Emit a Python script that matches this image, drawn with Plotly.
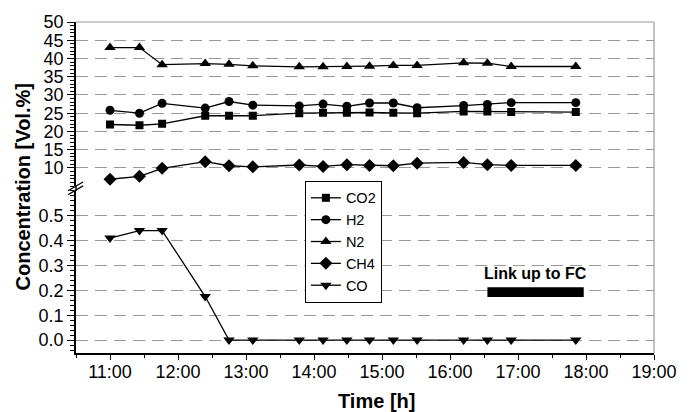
import plotly.graph_objects as go

# ---------------- data ----------------
times = ["11:00", "11:26", "11:46", "12:24", "12:45", "13:06", "13:47", "14:08",
         "14:29", "14:49", "15:10", "15:31", "16:12", "16:33", "16:54", "17:51"]
co2 = [21.9, 21.7, 22.1, 24.3, 24.3, 24.3, 25.0, 25.1, 25.1, 25.2, 25.1, 25.0, 25.5, 25.5, 25.3, 25.3]
h2 = [25.8, 25.0, 27.7, 26.4, 28.2, 27.2, 27.0, 27.5, 26.9, 27.8, 27.8, 26.5, 27.1, 27.4, 27.9, 27.9]
n2 = [43.0, 43.0, 38.3, 38.6, 38.4, 38.0, 37.7, 37.7, 37.8, 37.9, 38.1, 38.1, 38.8, 38.7, 37.8, 37.8]
ch4 = [6.9, 7.7, 9.9, 11.7, 10.6, 10.3, 10.8, 10.4, 10.9, 10.7, 10.6, 11.3, 11.5, 10.9, 10.7, 10.7]
co = [0.41, 0.44, 0.44, 0.175, 0.0, 0.0, 0.0, 0.0, 0.0, 0.0, 0.0, 0.0, 0.0, 0.0, 0.0, 0.0]

x_tick_labels = ["11:00", "12:00", "13:00", "14:00", "15:00", "16:00", "17:00", "18:00", "19:00"]
upper_ticks = [10, 15, 20, 25, 30, 35, 40, 45, 50]
lower_ticks = [0.0, 0.1, 0.2, 0.3, 0.4, 0.5]
lower_tick_text = ["0.0", "0.1", "0.2", "0.3", "0.4", "0.5"]

link_label = "Link up to FC"
link_start, link_end = "16:33", "17:58"
link_low, link_high = 0.173, 0.212


def hours(t):
    h, m = t.split(":")
    return int(h) + int(m) / 60.0


x = [hours(t) for t in times]
x_ticks = [hours(t) for t in x_tick_labels]

FONT = "Liberation Sans, Arial, sans-serif"
fig = go.Figure()

line = dict(color="black", width=1.3)
series = [
    ("CO2", co2, "square", 8, "y2"),
    ("H2", h2, "circle", 9, "y2"),
    ("N2", n2, "triangle-up", 10, "y2"),
    ("CH4", ch4, "diamond", 10, "y2"),
    ("CO", co, "triangle-down", 10, "y"),
]
for name, vals, sym, size, ax in series:
    fig.add_trace(go.Scatter(
        x=x, y=vals, name=name, mode="lines+markers", yaxis=ax, xaxis="x",
        line=line, marker=dict(symbol=sym, size=size, color="black"),
    ))

grid = dict(showgrid=True, gridcolor="#999999", gridwidth=1, griddash="12px,7px")

fig.update_layout(
    width=693, height=412,
    margin=dict(l=76, r=39, t=16, b=59),
    paper_bgcolor="white", plot_bgcolor="white",
    font=dict(family=FONT, size=18, color="black"),
    showlegend=True,
    legend=dict(x=0.396, y=0.52, xanchor="left", yanchor="top",
                bordercolor="black", borderwidth=1, bgcolor="white",
                font=dict(size=14.5), tracegroupgap=0),
    xaxis=dict(range=[10.5, 19], tickvals=x_ticks, ticktext=x_tick_labels,
               showline=True, linecolor="black", linewidth=1.5,
               ticks="outside", ticklen=5, tickwidth=1.2, tickcolor="black",
               ticklabelstandoff=-3,
               minor=dict(dtick=0.5, tick0=10.5, ticks="outside", ticklen=3, tickcolor="black"),
               showgrid=False, zeroline=False, anchor="y"),
    yaxis=dict(domain=[0, 0.49], range=[-0.052, 0.6], tickvals=lower_ticks,
               ticktext=lower_tick_text,
               showline=True, linecolor="black", linewidth=1.5,
               ticks="outside", ticklen=7, tickwidth=1.2, tickcolor="black",
               minor=dict(dtick=0.02, tick0=0, ticks="outside", ticklen=4, tickcolor="black"),
               zeroline=False, anchor="x", **grid),
    yaxis2=dict(domain=[0.504, 1], range=[5, 50], tickvals=upper_ticks,
                showline=True, linecolor="black", linewidth=1.5,
                ticks="outside", ticklen=7, tickwidth=1.2, tickcolor="black",
                minor=dict(dtick=1, tick0=0, ticks="outside", ticklen=4, tickcolor="black"),
                zeroline=False, anchor="x", **grid),
)

# frame (top/right) in grey
fig.add_shape(type="line", xref="paper", yref="paper", x0=0, x1=1, y0=1, y1=1,
              line=dict(color="#999999", width=1.2))
fig.add_shape(type="line", xref="paper", yref="paper", x0=1, x1=1, y0=0, y1=1,
              line=dict(color="#999999", width=1.2))

# axis continuation through the break + break marks
PW, PH = 578.0, 337.3


def px(xp):
    return (xp - 76) / PW


def py(yp):
    return (353.3 - yp) / PH


fig.add_shape(type="line", xref="paper", yref="paper", x0=0, x1=0, y0=0.49, y1=0.504,
              line=dict(color="black", width=1.5))
for y_off in (0, 4):
    fig.add_shape(type="line", xref="paper", yref="paper",
                  x0=px(68), y0=py(188 + y_off), x1=px(83), y1=py(179 + y_off),
                  line=dict(color="black", width=1.3))

# link-up bar
fig.add_shape(type="rect", xref="x", yref="y", x0=hours(link_start), x1=hours(link_end),
              y0=link_low, y1=link_high, fillcolor="black", line=dict(width=0))
fig.add_annotation(x=(hours(link_start) + hours(link_end)) / 2, y=link_high, xref="x", yref="y",
                   text="<b>%s</b>" % link_label, showarrow=False, yanchor="bottom",
                   yshift=3, font=dict(size=16))

# axis titles
fig.add_annotation(text="<b>Concentration [Vol.%]</b>", xref="paper", yref="paper",
                   x=0, y=0.5, xanchor="center", yanchor="middle", xshift=-54,
                   textangle=-90, showarrow=False, font=dict(size=20))
fig.add_annotation(text="<b>Time [h]</b>", xref="paper", yref="paper",
                   x=px(376), y=0, xanchor="center", yanchor="middle", yshift=-48,
                   showarrow=False, font=dict(size=20))

fig.write_html("out.html")
